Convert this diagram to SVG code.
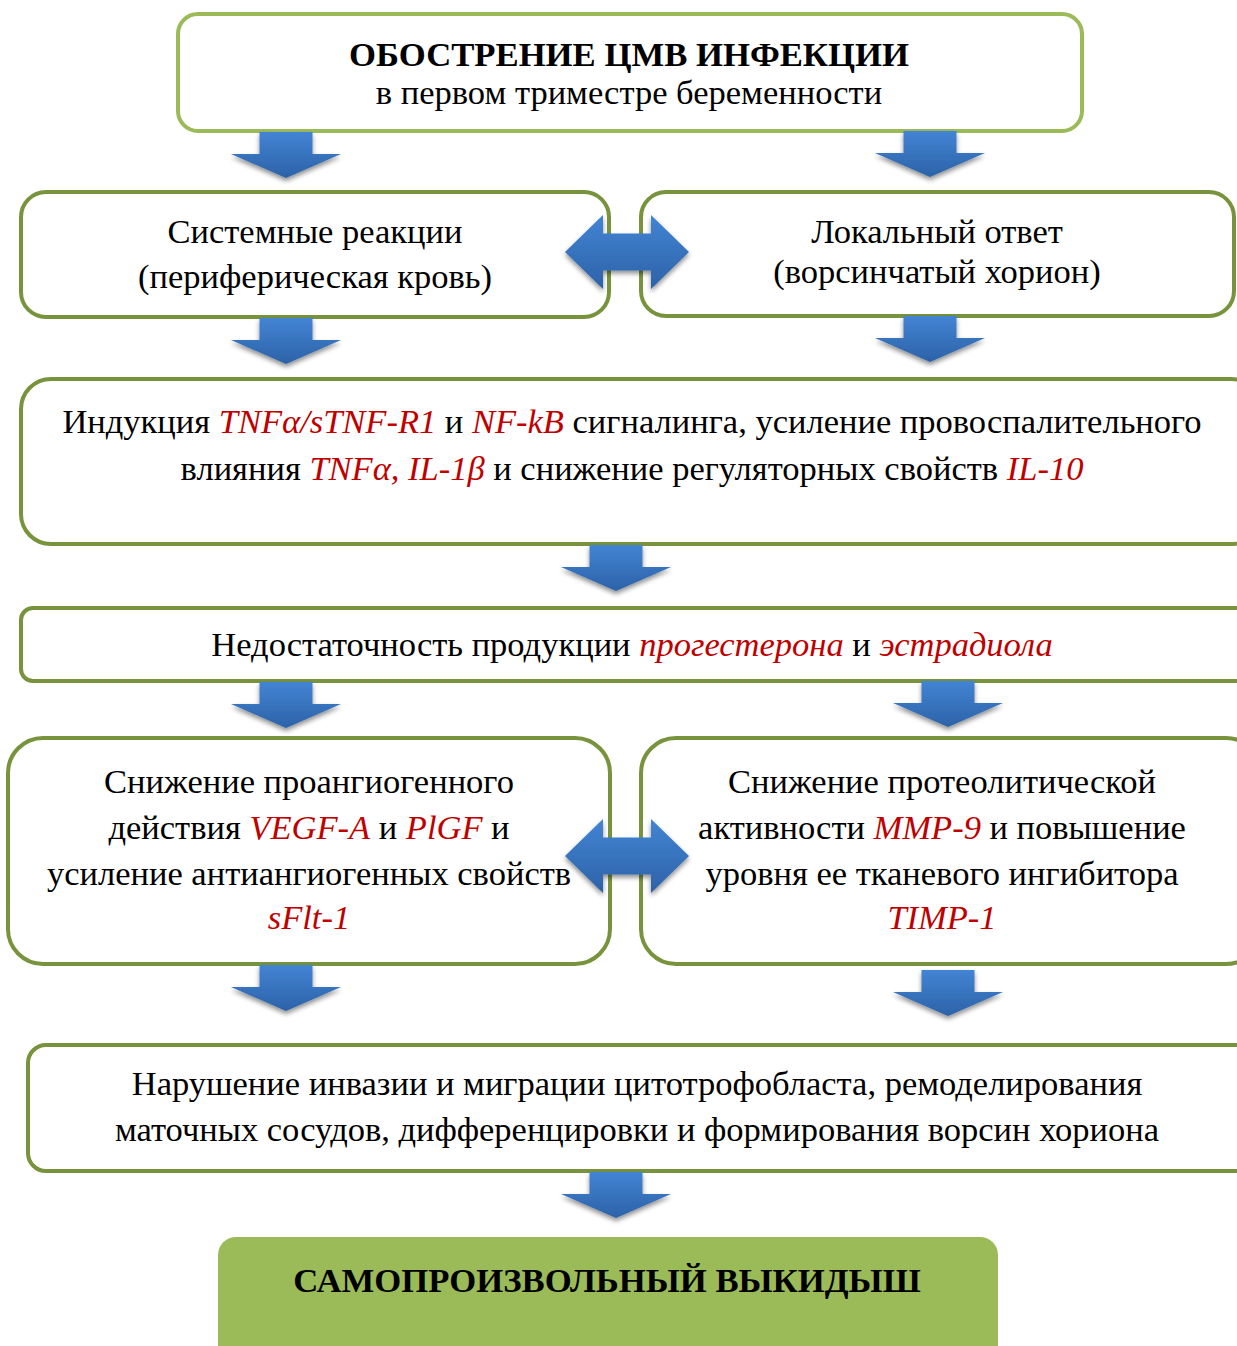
<svg xmlns="http://www.w3.org/2000/svg" width="1237" height="1346" viewBox="0 0 1237 1346">
<defs>
<linearGradient id="blue" x1="0" y1="0" x2="0" y2="1">
<stop offset="0" stop-color="#4384D4"/>
<stop offset="1" stop-color="#2C62A7"/>
</linearGradient>
<filter id="sh" x="-30%" y="-30%" width="160%" height="170%">
<feGaussianBlur in="SourceAlpha" stdDeviation="2.5"/>
<feOffset dx="0" dy="3" result="b"/>
<feComponentTransfer><feFuncA type="linear" slope="0.45"/></feComponentTransfer>
<feMerge><feMergeNode/><feMergeNode in="SourceGraphic"/></feMerge>
</filter>
<path id="down" d="M-26.5,0 h53 v22 h28.5 l-55,24 l-55,-24 h28.5 z"/>
<path id="dbl" d="M-62,0 l38,-37 v18.5 h48 v-18.5 l38,37 l-38,37 v-18.5 h-48 v18.5 z"/>
</defs>
<style>
.box{fill:#FFFFFF;stroke:#77933C;stroke-width:4}
.top{stroke:#9BBB59}
.t{font-family:"Liberation Serif","Times New Roman",serif;font-size:34.5px;fill:#000;text-anchor:middle}
.b{font-weight:bold;font-size:34.7px}
.r{fill:#C00000;font-style:italic}
.arr{fill:url(#blue);filter:url(#sh)}
</style>
<rect width="1237" height="1346" fill="#FFFFFF"/>

<g id="n1">
<rect class="box top" x="178" y="14" width="904" height="117" rx="20"/>
<text class="t b" x="629" y="66">ОБОСТРЕНИЕ ЦМВ ИНФЕКЦИИ</text>
<text class="t" x="629" y="104">в первом триместре беременности</text>
</g>

<g id="n2">
<rect class="box" x="21" y="192" width="588" height="125" rx="25"/>
<text class="t" x="315" y="243">Системные реакции</text>
<text class="t" x="315" y="288">(периферическая кровь)</text>
</g>

<g id="n3">
<rect class="box" x="641" y="192" width="593" height="124" rx="25"/>
<text class="t" x="937" y="243">Локальный ответ</text>
<text class="t" x="937" y="283">(ворсинчатый хорион)</text>
</g>

<g id="n4">
<rect class="box" x="21" y="379" width="1240" height="165" rx="30"/>
<text class="t" x="632" y="433">Индукция <tspan class="r">TNFα/sTNF-R1</tspan> и <tspan class="r">NF-kB</tspan> сигналинга, усиление провоспалительного</text>
<text class="t" x="632" y="480">влияния <tspan class="r">TNFα, IL-1β</tspan> и снижение регуляторных свойств <tspan class="r">IL-10</tspan></text>
</g>

<g id="n5">
<rect class="box" x="21" y="608" width="1240" height="73" rx="12"/>
<text class="t" x="632" y="656">Недостаточность продукции <tspan class="r">прогестерона</tspan> и <tspan class="r">эстрадиола</tspan></text>
</g>

<g id="n6">
<rect class="box" x="8" y="738" width="602" height="226" rx="35"/>
<text class="t" x="309" y="793">Снижение проангиогенного</text>
<text class="t" x="309" y="839">действия <tspan class="r">VEGF-A</tspan> и <tspan class="r">PlGF</tspan> и</text>
<text class="t" x="309" y="885">усиление антиангиогенных свойств</text>
<text class="t" x="309" y="929"><tspan class="r">sFlt-1</tspan></text>
</g>

<g id="n7">
<rect class="box" x="641" y="738" width="620" height="226" rx="35"/>
<text class="t" x="942" y="793">Снижение протеолитической</text>
<text class="t" x="942" y="839">активности <tspan class="r">MMP-9</tspan> и повышение</text>
<text class="t" x="942" y="885">уровня ее тканевого ингибитора</text>
<text class="t" x="942" y="929"><tspan class="r">TIMP-1</tspan></text>
</g>

<g id="n8">
<rect class="box" x="28" y="1045" width="1240" height="126" rx="18"/>
<text class="t" x="637" y="1095">Нарушение инвазии и миграции цитотрофобласта, ремоделирования</text>
<text class="t" x="637" y="1141">маточных сосудов, дифференцировки и формирования ворсин хориона</text>
</g>

<g id="n9">
<rect x="218" y="1237" width="780" height="130" rx="18" fill="#9BBB59"/>
<text class="t b" x="607" y="1292">САМОПРОИЗВОЛЬНЫЙ ВЫКИДЫШ</text>
</g>

<g id="connectors">
<use href="#down" class="arr" x="286" y="132"/>
<use href="#down" class="arr" x="930" y="131"/>
<use href="#dbl" class="arr" x="627" y="252"/>
<use href="#down" class="arr" x="286" y="318"/>
<use href="#down" class="arr" x="930" y="316"/>
<use href="#down" class="arr" x="616" y="545"/>
<use href="#down" class="arr" x="286" y="682"/>
<use href="#down" class="arr" x="948" y="681"/>
<use href="#dbl" class="arr" x="627" y="856"/>
<use href="#down" class="arr" x="286" y="965"/>
<use href="#down" class="arr" x="948" y="970"/>
<use href="#down" class="arr" x="616" y="1172"/>
</g>
</svg>
